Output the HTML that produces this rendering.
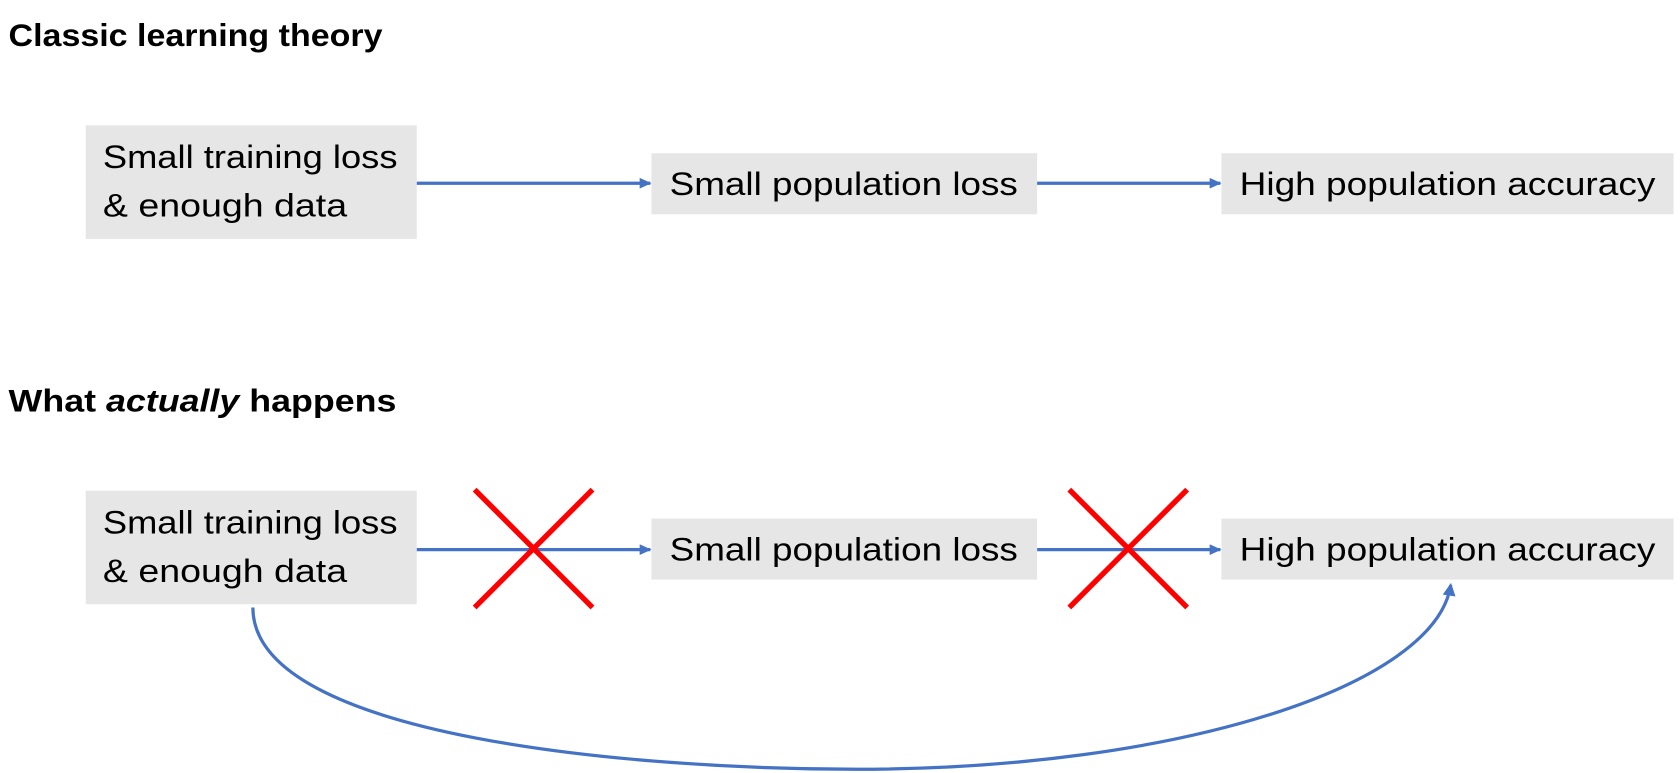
<!DOCTYPE html>
<html><head><meta charset="utf-8"><style>
body{margin:0;background:#fff;}
svg{display:block;font-family:"Liberation Sans",sans-serif;}
</style></head><body>
<svg width="1680" height="773" viewBox="0 0 1568 721.5" preserveAspectRatio="none">
<defs><marker id="ah" markerWidth="11" markerHeight="10" refX="10" refY="5" orient="auto" markerUnits="userSpaceOnUse"><path d="M0,0 L11,5 L0,10 z" fill="#4472C4"/></marker>
<marker id="ah2" markerWidth="12" markerHeight="12" refX="10" refY="6" orient="auto" markerUnits="userSpaceOnUse"><path d="M0,0 L12,6 L0,12 z" fill="#4472C4"/></marker></defs>
<text x="8" y="43" font-size="29" font-weight="bold" textLength="349" lengthAdjust="spacingAndGlyphs">Classic learning theory</text>
<text x="8" y="384" font-size="29" font-weight="bold" textLength="362" lengthAdjust="spacingAndGlyphs">What <tspan font-style="italic">actually</tspan> happens</text>
<g>
<rect x="80" y="117" width="309" height="106" fill="#E7E6E6"/>
<text x="96" y="157" font-size="30" textLength="275" lengthAdjust="spacingAndGlyphs">Small training loss</text><text x="96" y="202" font-size="30" textLength="228" lengthAdjust="spacingAndGlyphs">&amp; enough data</text>
<rect x="608" y="143" width="360" height="57" fill="#E7E6E6"/>
<text x="625" y="182" font-size="30" textLength="325" lengthAdjust="spacingAndGlyphs">Small population loss</text>
<rect x="1140" y="143" width="422" height="57" fill="#E7E6E6"/>
<text x="1157" y="182" font-size="30" textLength="388" lengthAdjust="spacingAndGlyphs">High population accuracy</text>
<line x1="389" y1="171" x2="607" y2="171" stroke="#4472C4" stroke-width="3" marker-end="url(#ah)"/>
<line x1="968" y1="171" x2="1139" y2="171" stroke="#4472C4" stroke-width="3" marker-end="url(#ah)"/>
</g>
<g>
<rect x="80" y="458" width="309" height="106" fill="#E7E6E6"/>
<text x="96" y="498" font-size="30" textLength="275" lengthAdjust="spacingAndGlyphs">Small training loss</text><text x="96" y="543" font-size="30" textLength="228" lengthAdjust="spacingAndGlyphs">&amp; enough data</text>
<rect x="608" y="484" width="360" height="57" fill="#E7E6E6"/>
<text x="625" y="523" font-size="30" textLength="325" lengthAdjust="spacingAndGlyphs">Small population loss</text>
<rect x="1140" y="484" width="422" height="57" fill="#E7E6E6"/>
<text x="1157" y="523" font-size="30" textLength="388" lengthAdjust="spacingAndGlyphs">High population accuracy</text>
<line x1="389" y1="513" x2="607" y2="513" stroke="#4472C4" stroke-width="3" marker-end="url(#ah)"/>
<line x1="968" y1="513" x2="1139" y2="513" stroke="#4472C4" stroke-width="3" marker-end="url(#ah)"/>
<g stroke="#FF0000" stroke-width="5"><line x1="443" y1="457" x2="553" y2="567"/><line x1="553" y1="457" x2="443" y2="567"/></g>
<g stroke="#FF0000" stroke-width="5"><line x1="998" y1="457" x2="1108" y2="567"/><line x1="1108" y1="457" x2="998" y2="567"/></g>
<path d="M236,567 C236,690 600,718 800,718 C1100,718 1340,640 1354,546" fill="none" stroke="#4472C4" stroke-width="3" marker-end="url(#ah2)"/>
</g>
</svg>
</body></html>
